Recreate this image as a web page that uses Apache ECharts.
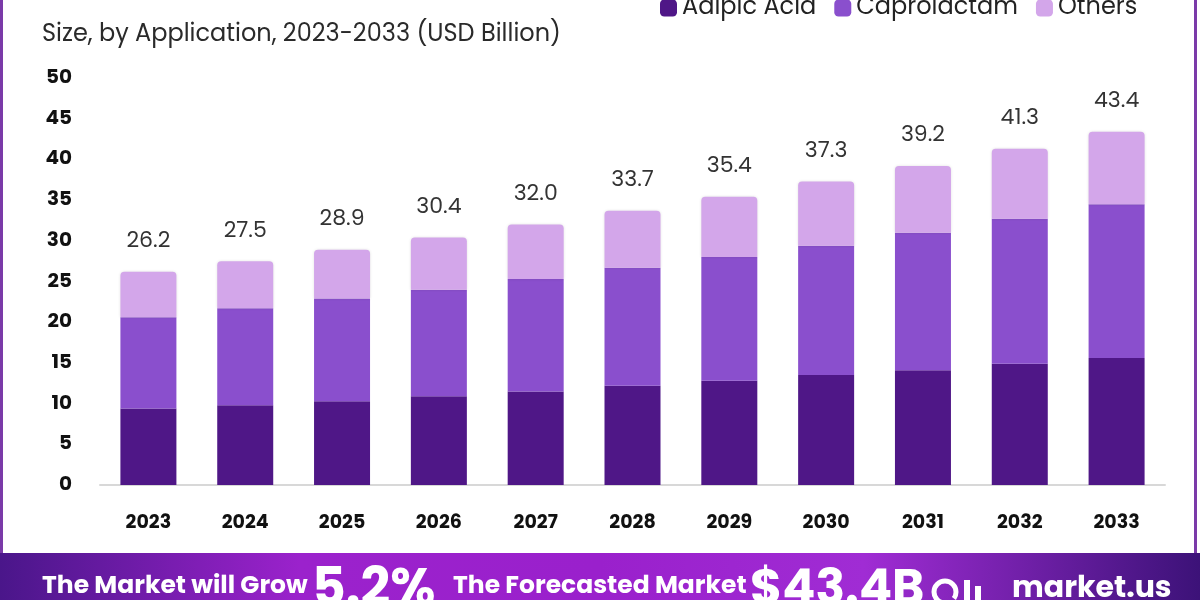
<!DOCTYPE html>
<html>
<head>
<meta charset="utf-8">
<script src="https://cdn.jsdelivr.net/npm/echarts@6/dist/echarts.min.js"></script>
<style>
html,body{margin:0;padding:0;background:#fff;}
#c{width:1200px;height:600px;}
</style>
</head>
<body>
<div id="c"></div>
<script>
var categories = ['2023','2024','2025','2026','2027','2028','2029','2030','2031','2032','2033'];
var adipicAcid = [9.4, 9.8, 10.3, 10.9, 11.5, 12.2, 12.8, 13.5, 14.1, 14.9, 15.6];
var caprolactam = [11.2, 11.9, 12.6, 13.1, 13.8, 14.5, 15.2, 15.9, 16.9, 17.8, 18.9];
var others = [5.6, 5.8, 6.0, 6.4, 6.7, 7.0, 7.4, 7.9, 8.2, 8.6, 8.9];
var totals = [26.2, 27.5, 28.9, 30.4, 32.0, 33.7, 35.4, 37.3, 39.2, 41.3, 43.4];
var yTicks = [0, 5, 10, 15, 20, 25, 30, 35, 40, 45, 50];

var chart = echarts.init(document.getElementById('c'));
var font = 'Poppins, "Open Sans", Lato, sans-serif';
var option = {
  backgroundColor: '#fff',
  animation: false,
  textStyle: {fontFamily: font},
  legend: {
    top: -9, left: 655,
    itemWidth: 17, itemHeight: 17, itemGap: 18,
    textStyle: {fontSize: 24, color: '#222', fontFamily: font},
    data: ['Adipic Acid', 'Caprolactam', 'Others']
  },
  grid: {left: 100, width: 1065, top: 78, bottom: 115},
  xAxis: {
    type: 'category',
    data: categories,
    axisLine: {lineStyle: {color: '#d8d8d8', width: 2}},
    axisTick: {show: false},
    axisLabel: {fontSize: 19, fontWeight: 'bold', color: '#111', margin: 29, fontFamily: font}
  },
  yAxis: {
    type: 'value', min: 0, max: 50, interval: 5,
    splitLine: {show: false},
    axisLine: {show: false},
    axisTick: {show: false},
    axisLabel: {fontSize: 20, fontWeight: 'bold', color: '#111', margin: 28, fontFamily: font,
      formatter: function(v){ return yTicks.indexOf(v) >= 0 ? String(v) : ''; }}
  },
  series: [
    {name: 'Adipic Acid', type: 'bar', stack: 't', barWidth: 56, data: adipicAcid,
     itemStyle: {color: '#4f1787'}},
    {name: 'Caprolactam', type: 'bar', stack: 't', barWidth: 56, data: caprolactam,
     itemStyle: {color: '#8a4fcd'}},
    {name: 'Others', type: 'bar', stack: 't', barWidth: 56, data: others,
     itemStyle: {color: '#d3a6ea', borderRadius: [4,4,0,0], shadowColor: 'rgba(0,0,0,0.12)', shadowBlur: 3},
     label: {show: true, position: 'top', distance: 19, fontSize: 22, color: '#333', fontFamily: font,
       formatter: function(p){ return totals[p.dataIndex].toFixed(1); }}}
  ],
  graphic: [
    {type: 'rect', left: 0, top: 0, shape: {width: 3, height: 553}, style: {fill: '#7a3aa8'}, z: 10},
    {type: 'rect', left: 1194, top: 0, shape: {width: 3, height: 553}, style: {fill: '#7a3aa8'}, z: 10},
    {type: 'text', left: 42, top: 23, style: {text: 'Size, by Application, 2023-2033 (USD Billion)', fontSize: 24, fill: '#2a2a2a', fontFamily: font}},
    {type: 'rect', left: 0, top: 553, shape: {width: 1200, height: 47},
     style: {fill: new echarts.graphic.LinearGradient(0, 0, 1, 0, [
       {offset: 0, color: '#4a168a'}, {offset: 0.25, color: '#9b22cc'}, {offset: 0.5, color: '#9a20cc'},
       {offset: 0.72, color: '#a02cd4'}, {offset: 1, color: '#3c1278'}])}, z: 5},
    {type: 'text', left: 42, top: 574, z: 20, style: {text: 'The Market will Grow', fontSize: 25, fontWeight: 'bold', fill: '#fff', fontFamily: font}},
    {type: 'text', left: 312, top: 566, z: 20, style: {text: '5.2%', fontSize: 52, fontWeight: 'bold', fill: '#fff', fontFamily: font}},
    {type: 'text', left: 453, top: 574, z: 20, style: {text: 'The Forecasted Market', fontSize: 25, fontWeight: 'bold', fill: '#fff', fontFamily: font}},
    {type: 'text', left: 750, top: 567, z: 20, style: {text: '$43.4B', fontSize: 49, fontWeight: 'bold', fill: '#fff', fontFamily: font}},
    {type: 'arc', z: 20, shape: {cx: 945, cy: 592, r: 11, startAngle: Math.PI * 0.5, endAngle: Math.PI * 2.2},
     style: {stroke: '#fff', lineWidth: 5, fill: null}},
    {type: 'rect', z: 20, shape: {x: 964, y: 580, width: 6, height: 20}, style: {fill: '#fff'}},
    {type: 'rect', z: 20, shape: {x: 975, y: 586, width: 6, height: 14}, style: {fill: '#fff'}},
    {type: 'text', left: 1012, top: 574, z: 20, style: {text: 'market.us', fontSize: 30, fontWeight: 'bold', fill: '#fff', fontFamily: font}}
  ]
};
chart.setOption(option);
</script>
</body>
</html>
